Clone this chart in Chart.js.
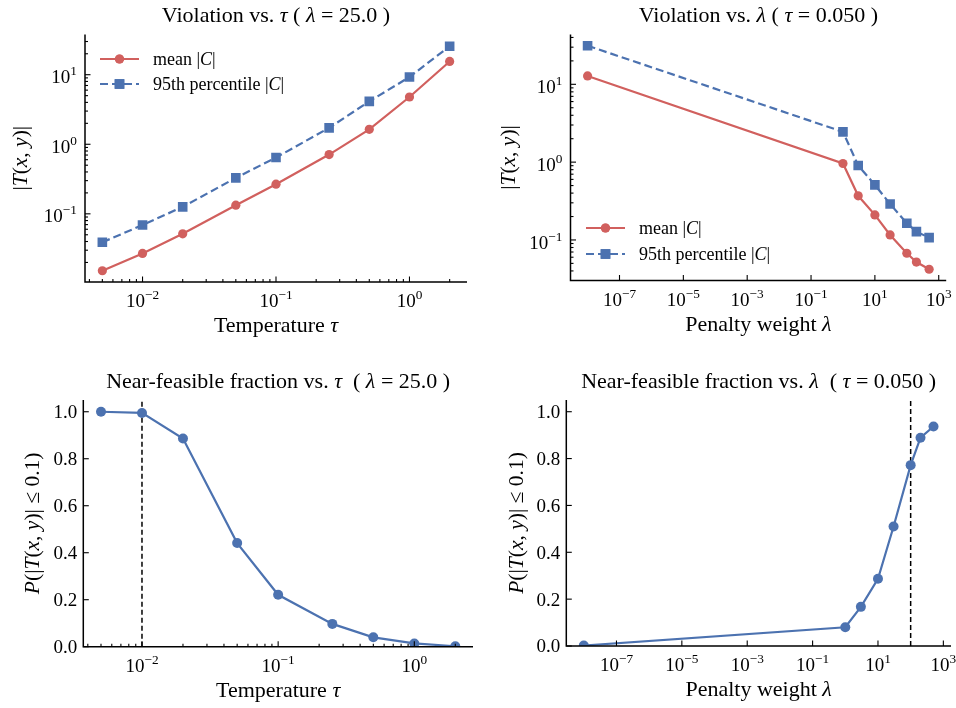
<!DOCTYPE html>
<html lang="en">
<head>
<meta charset="UTF-8">
<title>Violation and near-feasible fraction</title>
<script src="https://cdn.jsdelivr.net/npm/chart.js@4.4.2/dist/chart.umd.min.js"></script>
<style>
    body { margin: 0; background: #fff; }
    #fig { position: relative; width: 956px; height: 708px; background: #fff; }
    #fig canvas { position: absolute; }
</style>
</head>
<body>
<div id="fig">
    <canvas id="c1" width="478" height="354" style="left:0;top:0"></canvas>
    <canvas id="c2" width="478" height="354" style="left:478px;top:0"></canvas>
    <canvas id="c3" width="478" height="354" style="left:0;top:354px"></canvas>
    <canvas id="c4" width="478" height="354" style="left:478px;top:354px"></canvas>
</div>
<script>
    // temperature sweep (lambda = 25)
    const tauVals = [0.005, 0.01, 0.02, 0.05, 0.1, 0.25, 0.5, 1, 2];
    const tauMean = [0.0152, 0.027, 0.0516, 0.133, 0.267, 0.711, 1.64, 4.78, 15.5];
    const tauP95 = [0.039, 0.069, 0.126, 0.329, 0.644, 1.72, 4.14, 9.25, 25.7];
    const tauFrac = [1.0, 0.995, 0.886, 0.441, 0.221, 0.097, 0.04, 0.014, 0.002];
    const tauMark = 0.01;

    // penalty sweep (tau = 0.050)
    const lamVals = [1e-8, 1, 3, 10, 30, 100, 200, 500];
    const lamMean = [12.8, 0.96, 0.369, 0.21, 0.116, 0.0675, 0.052, 0.042];
    const lamP95 = [31.3, 2.45, 0.905, 0.51, 0.29, 0.164, 0.128, 0.107];
    const lamFrac = [0.002, 0.08, 0.167, 0.287, 0.51, 0.772, 0.889, 0.937];
    const lamMark = 100;

    // tick labels
    const tauTickExps = [-2, -1, 0];
    const lamTickExps = [-7, -5, -3, -1, 1, 3];
    const violTickExps = [-1, 0, 1];
    const fracTicks = [0, 0.2, 0.4, 0.6, 0.8, 1.0];

    const RED = '#d1605e';
    const BLUE = '#4c72b0';
    const SERIF = '"Liberation Serif", "Times New Roman", serif';
    const TITLE_PX = 22, LABEL_PX = 22, YLABEL_PX = 21.5, TICK_PX = 19, LEG_PX = 18;

    function fontStr(size, italic) {
        return (italic ? 'italic ' : '') + size + 'px ' + SERIF;
    }
    // parts: [text, style] with style '' | 'i' | 's' (superscript)
    function partSize(p, size) { return p[1] === 's' ? size * 0.7 : size; }
    function richWidth(ctx, parts, size) {
        let w = 0;
        for (const p of parts) {
            ctx.font = fontStr(partSize(p, size), p[1] === 'i');
            w += ctx.measureText(p[0]).width;
        }
        return w;
    }
    function drawRich(ctx, parts, x, y, size, align) {
        const w = richWidth(ctx, parts, size);
        let cx = align === 'center' ? x - w / 2 : (align === 'right' ? x - w : x);
        ctx.textBaseline = 'alphabetic';
        ctx.textAlign = 'left';
        ctx.fillStyle = '#000';
        for (const p of parts) {
            ctx.font = fontStr(partSize(p, size), p[1] === 'i');
            ctx.fillText(p[0], cx, p[1] === 's' ? y - size * 0.42 : y);
            cx += ctx.measureText(p[0]).width;
        }
    }
    const pow10Label = e => [['10', ''], [(e < 0 ? '\u2212' : '') + Math.abs(e), 's']];

    const figPlugin = {
        id: 'figAxes',
        afterDraw(chart) {
            const f = chart.config.options.fig;
            if (!f) return;
            const ctx = chart.ctx;
            const a = chart.chartArea;
            const xs = chart.scales.x, ys = chart.scales.y;
            ctx.save();
            // spines
            ctx.strokeStyle = '#000';
            ctx.lineWidth = 1.5;
            ctx.beginPath();
            ctx.moveTo(a.left, a.top);
            ctx.lineTo(a.left, a.bottom);
            ctx.lineTo(a.right, a.bottom);
            ctx.stroke();
            // ticks (inward)
            ctx.lineWidth = 1.1;
            const tick = (axis, px, len) => {
                ctx.beginPath();
                if (axis === 'x') { ctx.moveTo(px, a.bottom); ctx.lineTo(px, a.bottom - len); }
                else { ctx.moveTo(a.left, px); ctx.lineTo(a.left + len, px); }
                ctx.stroke();
            };
            const minors = (axis, scale) => {
                const lo = Math.floor(Math.log10(scale.min)), hi = Math.ceil(Math.log10(scale.max));
                for (let e = lo; e <= hi; e++) {
                    for (let k = 2; k <= 9; k++) {
                        const v = k * Math.pow(10, e);
                        if (v > scale.min && v < scale.max) tick(axis, scale.getPixelForValue(v), 3);
                    }
                }
            };
            if (f.xMinor) minors('x', xs);
            if (f.yMinor) minors('y', ys);
            // x major ticks + labels
            for (const e of f.xExps) {
                const px = xs.getPixelForValue(Math.pow(10, e));
                tick('x', px, 5.5);
                drawRich(ctx, pow10Label(e), px, a.bottom + 25, TICK_PX, 'center');
            }
            // y major ticks + labels
            if (f.yExps) {
                for (const e of f.yExps) {
                    const py = ys.getPixelForValue(Math.pow(10, e));
                    tick('y', py, 5.5);
                    drawRich(ctx, pow10Label(e), a.left - 8, py + TICK_PX * 0.45, TICK_PX, 'right');
                }
            } else {
                for (const v of f.yLin) {
                    const py = ys.getPixelForValue(v);
                    tick('y', py, 5.5);
                    drawRich(ctx, [[v.toFixed(1), '']], a.left - 6, py + TICK_PX * 0.34, TICK_PX, 'right');
                }
            }
            // title and axis labels
            const cx = (a.left + a.right) / 2;
            drawRich(ctx, f.title, cx, a.top - 12.5, TITLE_PX, 'center');
            drawRich(ctx, f.xlabel, cx, a.bottom + 50, LABEL_PX, 'center');
            ctx.save();
            ctx.translate(a.left - f.yLabelGap, (a.top + a.bottom) / 2);
            ctx.rotate(-Math.PI / 2);
            drawRich(ctx, f.ylabel, 0, YLABEL_PX * 0.33, YLABEL_PX, 'center');
            ctx.restore();
            // legend
            if (f.legend) {
                const L = f.legend;
                chart.data.datasets.forEach((ds, i) => {
                    const y = L.y + i * L.dy;
                    ctx.strokeStyle = ds.borderColor;
                    ctx.lineWidth = ds.borderWidth;
                    ctx.setLineDash(ds.borderDash || []);
                    ctx.beginPath();
                    ctx.moveTo(L.x, y);
                    ctx.lineTo(L.x + 39, y);
                    ctx.stroke();
                    ctx.setLineDash([]);
                    ctx.fillStyle = ds.pointBackgroundColor;
                    Chart.helpers.drawPoint(ctx, {pointStyle: ds.pointStyle, radius: ds.pointRadius, borderWidth: 0, rotation: 0}, L.x + 19.5, y);
                    ctx.fill();
                    drawRich(ctx, L.labels[i], L.x + 53, y + LEG_PX * 0.33, LEG_PX, 'left');
                });
            }
            ctx.restore();
        }
    };
    Chart.register(figPlugin);

    function series(xv, yv, color, opts) {
        return Object.assign({
            data: xv.map((x, i) => ({x: x, y: yv[i]})),
            borderColor: color,
            backgroundColor: color,
            pointBackgroundColor: color,
            borderWidth: 2.2,
            pointRadius: 4.6,
            pointHoverRadius: 4.6,
            pointBorderWidth: 0,
            pointStyle: 'circle',
            tension: 0,
            clip: 0
        }, opts || {});
    }
    function vline(xv, y0, y1) {
        return {
            data: [{x: xv, y: y0}, {x: xv, y: y1}],
            borderColor: '#000',
            borderWidth: 1.5,
            borderDash: [5, 3],
            pointRadius: 0,
            clip: 0
        };
    }

    function makePanel(id, off, area, xr, yr, yType, datasets, fig) {
        new Chart(document.getElementById(id), {
            type: 'line',
            data: {datasets: datasets},
            options: {
                responsive: false,
                animation: false,
                events: [],
                layout: {padding: {
                    left: area.l - off.x, top: area.t - off.y,
                    right: off.x + 478 - area.r, bottom: off.y + 354 - area.b
                }},
                scales: {
                    x: {type: 'logarithmic', display: false, bounds: 'data', min: xr[0], max: xr[1]},
                    y: {type: yType, display: false, bounds: 'data', min: yr[0], max: yr[1]}
                },
                plugins: {legend: {display: false}, title: {display: false}, tooltip: {enabled: false}},
                fig: fig
            }
        });
    }

    const tauRange = [Math.pow(10, -2.431), Math.pow(10, 0.431)];
    const lamRange = [Math.pow(10, -8.535), Math.pow(10, 3.234)];
    const ylabViol = [['|', ''], ['T', 'i'], ['(', ''], ['x', 'i'], [', ', ''], ['y', 'i'], [')|', '']];
    const ylabFrac = [['P', 'i'], ['(|', ''], ['T', 'i'], ['(', ''], ['x', 'i'], [', ', ''], ['y', 'i'], [')| \u2264 0.1)', '']];
    const legLabels = [[['mean |', ''], ['C', 'i'], ['|', '']], [['95th percentile |', ''], ['C', 'i'], ['|', '']]];
    const xlabTau = [['Temperature ', ''], ['\u03c4', 'i']];
    const xlabLam = [['Penalty weight ', ''], ['\u03bb', 'i']];

    makePanel('c1', {x: 0, y: 0}, {l: 85, r: 467, t: 34.5, b: 282},
        tauRange, [Math.pow(10, -1.98), Math.pow(10, 1.578)], 'logarithmic',
        [series(tauVals, tauMean, RED),
         series(tauVals, tauP95, BLUE, {borderDash: [8, 4], pointStyle: 'rect', pointRadius: 6.8, pointHoverRadius: 6.8})],
        {title: [['Violation vs. ', ''], ['\u03c4', 'i'], [' ( ', ''], ['\u03bb', 'i'], [' = 25.0 )', '']],
         xlabel: xlabTau, ylabel: ylabViol, yLabelGap: 65,
         xExps: tauTickExps, yExps: violTickExps, xMinor: true, yMinor: true,
         legend: {x: 100, y: 59, dy: 25, labels: legLabels}});

    makePanel('c2', {x: 478, y: 0}, {l: 570.5, r: 946.2, t: 34.5, b: 280.5},
        lamRange, [Math.pow(10, -1.521), Math.pow(10, 1.64)], 'logarithmic',
        [series(lamVals, lamMean, RED),
         series(lamVals, lamP95, BLUE, {borderDash: [8, 4], pointStyle: 'rect', pointRadius: 6.8, pointHoverRadius: 6.8})],
        {title: [['Violation vs. ', ''], ['\u03bb', 'i'], [' ( ', ''], ['\u03c4', 'i'], [' = 0.050 )', '']],
         xlabel: xlabLam, ylabel: ylabViol, yLabelGap: 63,
         xExps: lamTickExps, yExps: violTickExps, xMinor: false, yMinor: true,
         legend: {x: 586 - 478, y: 228, dy: 26, labels: legLabels}});

    makePanel('c3', {x: 0, y: 354}, {l: 83.3, r: 475, t: 400, b: 646.7},
        tauRange, [0, 1.05], 'linear',
        [series(tauVals, tauFrac, BLUE, {pointRadius: 5}), vline(tauMark, 0, 1.05)],
        {title: [['Near-feasible fraction vs. ', ''], ['\u03c4', 'i'], ['  ( ', ''], ['\u03bb', 'i'], [' = 25.0 )', '']],
         xlabel: xlabTau, ylabel: ylabFrac, yLabelGap: 51,
         xExps: tauTickExps, yLin: fracTicks, xMinor: true, yMinor: false});

    makePanel('c4', {x: 478, y: 354}, {l: 566.3, r: 951.3, t: 400, b: 646},
        lamRange, [0, 1.05], 'linear',
        [series(lamVals, lamFrac, BLUE, {pointRadius: 5}), vline(lamMark, 0, 1.05)],
        {title: [['Near-feasible fraction vs. ', ''], ['\u03bb', 'i'], ['  ( ', ''], ['\u03c4', 'i'], [' = 0.050 )', '']],
         xlabel: xlabLam, ylabel: ylabFrac, yLabelGap: 50,
         xExps: lamTickExps, yLin: fracTicks, xMinor: false, yMinor: false});
</script>
</body>
</html>
